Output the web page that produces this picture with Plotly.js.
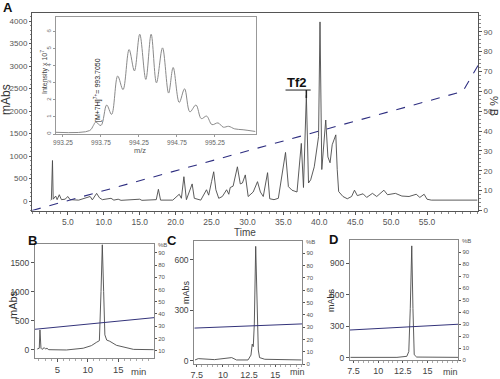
<!DOCTYPE html>
<html><head><meta charset="utf-8">
<script src="https://cdn.plot.ly/plotly-3.0.1.min.js"></script>
<style>html,body{margin:0;padding:0;background:#fff}#c{width:500px;height:379px}</style>
</head><body><div id="c"></div>
<script>
// ---- Panel A: chromatogram ----
const mainTime = [2.6,2.7,2.85,2.95,3.3,3.5,3.8,4.1,4.6,5.0,5.3,6.5,8.1,8.4,9.0,9.4,9.8,10.3,11.0,11.4,12.0,12.4,15.0,15.3,17.3,17.6,17.9,19.6,20.5,20.8,21.15,21.5,22.3,22.6,23.5,24.3,24.6,25.0,25.3,25.6,26.0,26.5,27.1,27.4,27.6,28.0,28.6,29.0,29.3,29.7,30.1,30.8,31.4,31.8,32.2,32.8,33.1,33.7,34.3,35.3,35.7,36.2,36.9,37.5,37.8,38.2,38.5,38.8,39.3,39.9,40.1,40.35,40.65,40.9,41.2,41.5,41.8,42.0,42.3,42.5,42.7,43.3,43.9,44.5,44.9,45.3,46.1,46.6,47.4,48.0,49.0,49.5,50.6,51.5,52.5,53.5,54.0,54.6,55.0,55.6,62.0];
const mainAbs  = [20,30,900,40,110,30,140,30,40,100,30,20,100,25,170,70,30,40,60,20,40,15,40,15,30,260,20,20,150,60,540,30,380,60,20,250,130,430,650,250,60,100,250,150,300,330,760,380,400,580,100,200,430,200,100,630,50,30,60,1080,320,240,200,1280,300,2350,400,470,760,1430,3980,700,1280,1800,980,850,1250,1350,1470,700,210,100,50,100,240,120,160,80,170,100,240,140,170,110,100,150,80,150,40,20,20];
const gradTime = [0, 60, 62.1];
const gradB    = [0, 60, 73];
const mainXTicks = [5,10,15,20,25,30,35,40,45,50,55];
const mainYTicks = [0,500,1000,1500,2000,2500,3000,3500,4000];
const pctTicks   = [0,10,20,30,40,50,60,70,80,90];

// ---- Panel A inset: mass spectrum ----
const insetMz  = [993.15,993.60,993.65,993.68,993.75,993.825,993.89,993.97,994.04,994.12,994.19,994.26,994.34,994.41,994.48,994.56,994.64,994.70,994.78,994.85,994.92,995.00,995.07,995.14,995.21,995.29,995.36,995.43,995.51,995.62,995.78];
const insetInt = [0.1,0.2,0.5,0.7,0.5,1.7,1.15,3.4,2.6,4.95,3.7,5.85,3.2,5.85,3.0,5.05,2.4,3.9,1.85,2.65,1.3,1.7,0.9,1.05,0.55,0.65,0.4,0.45,0.3,0.25,0.15];
const insetXTicks = [993.25,993.75,994.25,994.75,995.25];
const insetXLabels = ['993.25','993.75','994.25','994.75','995.25'];
const insetYTicks = [0,1,2,3,4,5,6];

// ---- Panel B ----
const bTime = [1.72,2.05,2.16,2.33,2.5,2.87,3.1,3.3,3.6,6.5,9.25,10.6,11.4,11.9,12.17,12.38,12.6,12.8,13.1,13.6,14.7,16.4,17.5,20.8];
const bAbs  = [17,30,345,30,10,40,15,30,5,0,30,75,130,160,1005,1810,1005,260,170,150,80,40,10,5];
const bGradTime = [1.35, 20.85];
const bGradB    = [27.5, 37];
const bXTicks = [5,10,15];
const bYTicks = [0,500,1000,1500];

// ---- Panel C ----
const cTime = [7.34,7.65,9.2,10.84,11.3,12.4,12.68,12.8,12.9,13.0,13.13,13.25,13.38,13.5,14.0,17.5];
const cAbs  = [6,14,8,20,6,6,35,100,85,220,680,320,65,20,10,6];
const cGradTime = [7.27, 17.58];
const cGradB    = [29.2, 32.6];
const cXTicks = [7.5,10,12.5,15];
const cYTicks = [0,300,600];

// ---- Panel D ----
const dTime = [7.2,11.9,12.9,13.1,13.25,13.4,13.52,13.65,13.9,18.1];
const dAbs  = [5,5,15,60,470,1065,470,30,8,5];
const dGradTime = [7.15, 18.11];
const dGradB    = [25, 29.8];
const dXTicks = [7.5,10,12.5,15];
const dYTicks = [0,300,600,900];

const F = "Arial, 'Liberation Sans', sans-serif";
const PX = v => v/500, PY = v => 1 - v/379;
const lc = '#555', tc = '#555';
function ax(o){
  return Object.assign({showgrid:false, zeroline:false, showline:true, linecolor:lc, linewidth:1,
    ticks:'outside', ticklen:3, tickcolor:lc, tickfont:{family:F,size:8.5,color:tc}, fixedrange:true}, o);
}
function note(text, x, y, size, extra){
  return Object.assign({text:text, x:PX(x), y:PY(y), xref:'paper', yref:'paper', showarrow:false,
    xanchor:'center', yanchor:'middle', font:{family:F, size:size, color:'#333'}}, extra||{});
}
const chromLine = {color:'#4a4a4a', width:0.9};
const gradLine = {color:'#33337a', width:1};

const traces = [
  {x:mainTime, y:mainAbs, xaxis:'x', yaxis:'y', type:'scatter', mode:'lines', line:chromLine},
  {x:gradTime, y:gradB, xaxis:'x', yaxis:'y2', type:'scatter', mode:'lines', line:{color:'#2e2e80', width:1.1, dash:'dash'}},
  {x:insetMz, y:insetInt, xaxis:'x2', yaxis:'y3', type:'scatter', mode:'lines', line:{color:'#8a8a8a', width:1, shape:'spline', smoothing:1}},
  {x:bTime, y:bAbs, xaxis:'x3', yaxis:'y4', type:'scatter', mode:'lines', line:chromLine},
  {x:bGradTime, y:bGradB, xaxis:'x3', yaxis:'y5', type:'scatter', mode:'lines', line:gradLine},
  {x:cTime, y:cAbs, xaxis:'x4', yaxis:'y6', type:'scatter', mode:'lines', line:chromLine},
  {x:cGradTime, y:cGradB, xaxis:'x4', yaxis:'y7', type:'scatter', mode:'lines', line:gradLine},
  {x:dTime, y:dAbs, xaxis:'x5', yaxis:'y8', type:'scatter', mode:'lines', line:chromLine},
  {x:dGradTime, y:dGradB, xaxis:'x5', yaxis:'y9', type:'scatter', mode:'lines', line:gradLine}
];

const small = {family:F,size:6,color:'#555'};
const layout = {
  width:500, height:379, margin:{l:0,r:0,t:0,b:0}, showlegend:false,
  paper_bgcolor:'#fff', plot_bgcolor:'rgba(0,0,0,0)',
  xaxis: ax({domain:[PX(32),PX(478)], anchor:'y', range:[0,62.1], tickvals:mainXTicks, tickformat:'.1f', mirror:true,
    minor:{ticks:'outside', ticklen:2, dtick:1, tickcolor:'#888'}}),
  yaxis: ax({domain:[PY(210.5),PY(12.5)], anchor:'x', range:[-211,4189], tickvals:mainYTicks, ticklen:2,
    tickfont:{family:F,size:8,color:tc},
    minor:{ticks:'outside', ticklen:1.5, dtick:100, tickcolor:'#888'}}),
  yaxis2: ax({overlaying:'y', side:'right', anchor:'x', range:[0,99.7], tickvals:pctTicks, tickfont:{family:F,size:8,color:tc},
    minor:{ticks:'outside', ticklen:2, dtick:2, tickcolor:'#888'}}),
  xaxis2: ax({domain:[PX(56),PX(256)], anchor:'y3', range:[993.158,995.79], tickvals:insetXTicks, ticktext:insetXLabels,
    mirror:true, linecolor:'#999', tickcolor:'#999', ticklen:2, tickfont:{family:F,size:6.5,color:'#666'}}),
  yaxis3: ax({domain:[PY(134),PY(17)], anchor:'x2', range:[0,6.86], tickvals:insetYTicks, tickangle:-90,
    mirror:true, linecolor:'#999', tickcolor:'#999', ticklen:2, tickfont:{family:F,size:6,color:'#666'}}),
  xaxis3: ax({domain:[PX(35),PX(154)], anchor:'y4', range:[1.35,20.85], tickvals:bXTicks, mirror:true, linecolor:'#888',
    tickfont:{family:F,size:9.5,color:'#444'}, minor:{ticks:'outside', ticklen:2, dtick:1, tickcolor:'#aaa'}}),
  yaxis4: ax({domain:[PY(358),PY(244.3)], anchor:'x3', range:[-138,1817], tickvals:bYTicks, linecolor:'#888',
    tickfont:{family:F,size:8.5,color:'#444'}}),
  yaxis5: ax({overlaying:'y4', side:'right', anchor:'x3', range:[4,97], tickvals:pctTicks, linecolor:'#888', ticklen:2, tickfont:small}),
  xaxis4: ax({domain:[PX(194.3),PX(302.3)], anchor:'y6', range:[7.27,17.58], tickvals:cXTicks, mirror:true, linecolor:'#888', ticklen:2,
    tickfont:{family:F,size:9,color:'#444'}, minor:{ticks:'outside', ticklen:1.5, dtick:0.5, tickcolor:'#aaa'}}),
  yaxis6: ax({domain:[PY(364),PY(241)], anchor:'x4', range:[-18,712], tickvals:cYTicks, linecolor:'#888',
    tickfont:{family:F,size:8.5,color:'#444'}}),
  yaxis7: ax({overlaying:'y6', side:'right', anchor:'x4', range:[0,100], tickvals:pctTicks, linecolor:'#888', ticklen:2, tickfont:small}),
  xaxis5: ax({domain:[PX(350),PX(458.3)], anchor:'y8', range:[7.15,18.11], tickvals:dXTicks, mirror:true, linecolor:'#888', ticklen:2,
    tickfont:{family:F,size:9,color:'#444'}, minor:{ticks:'outside', ticklen:1.5, dtick:0.5, tickcolor:'#aaa'}}),
  yaxis8: ax({domain:[PY(360),PY(240)], anchor:'x5', range:[-20,1121], tickvals:dYTicks, linecolor:'#888',
    tickfont:{family:F,size:8.5,color:'#444'}}),
  yaxis9: ax({overlaying:'y8', side:'right', anchor:'x5', range:[0,100], tickvals:pctTicks, linecolor:'#888', ticklen:2, tickfont:small}),
  shapes:[
    {type:'line', xref:'x', yref:'y', x0:35.3, x1:38.8, y0:2466, y1:2466, line:{color:'#222', width:1}},
    {type:'line', xref:'x', yref:'y', x0:38.2, x1:38.2, y0:2466, y1:2290, line:{color:'#222', width:1.5}}
  ],
  annotations:[
    note('<b>A</b>', 8, 7, 13, {font:{family:F,size:13,color:'#111'}}),
    note('<b>B</b>', 32, 240, 13, {font:{family:F,size:13,color:'#111'}}),
    note('<b>C</b>', 172, 240, 13, {font:{family:F,size:13,color:'#111'}}),
    note('<b>D</b>', 333, 239, 13, {font:{family:F,size:13,color:'#111'}}),
    note('mAbs', 6, 100, 12, {textangle:-90}),
    note('Time', 245, 232, 10, {font:{family:F,size:10,color:'#444'}}),
    note('% B', 494, 106, 11, {textangle:90}),
    note('<b>Tf2</b>', 297, 83, 13, {font:{family:F,size:13,color:'#111'}}),
    note('Intensity x 10<sup>7</sup>', 44, 72, 7, {textangle:-90, font:{family:F,size:7,color:'#444'}}),
    note('m/z', 140, 150, 7.5, {font:{family:F,size:7.5,color:'#555'}}),
    note('[M+7H]<sup>7+</sup>= 993.7050', 97, 90, 7, {textangle:-90, font:{family:F,size:7,color:'#222'}}),
    note('mAbs', 13, 305, 11, {textangle:-90}),
    note('mAbs', 186, 292, 9, {textangle:-90}),
    note('mAbs', 331, 300, 9, {textangle:-90}),
    note('min', 138, 371, 9.5, {font:{family:F,size:9.5,color:'#444'}}),
    note('min', 297, 372, 9, {font:{family:F,size:9,color:'#444'}}),
    note('min', 450, 372, 9, {font:{family:F,size:9,color:'#444'}}),
    note('%B', 156, 245, 6, {xanchor:'left', font:small}),
    note('%B', 304, 242, 6, {xanchor:'left', font:small}),
    note('%B', 460, 241, 6, {xanchor:'left', font:small})
  ]
};
Plotly.newPlot('c', traces, layout, {displayModeBar:false, staticPlot:true});
</script></body></html>
